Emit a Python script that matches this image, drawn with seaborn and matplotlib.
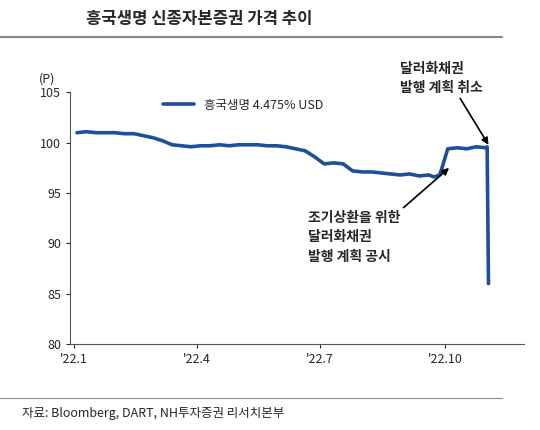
import matplotlib
matplotlib.use("Agg")
import matplotlib.pyplot as plt
import seaborn as sns
import pandas as pd

sns.set_style("white")
plt.rcParams['font.family'] = ['Noto Sans CJK KR', 'DejaVu Sans']

dates = ["2022-01-03","2022-01-10","2022-01-17","2022-01-24","2022-01-31","2022-02-07","2022-02-14","2022-02-21",
         "2022-02-28","2022-03-07","2022-03-14","2022-03-21","2022-03-28","2022-04-04","2022-04-11","2022-04-18",
         "2022-04-25","2022-05-02","2022-05-09","2022-05-16","2022-05-23","2022-05-30","2022-06-06","2022-06-13",
         "2022-06-20","2022-06-27","2022-07-04","2022-07-11","2022-07-18","2022-07-25","2022-08-01","2022-08-08",
         "2022-08-15","2022-08-22","2022-08-29","2022-09-05","2022-09-12","2022-09-19","2022-09-23","2022-09-27",
         "2022-09-29","2022-10-03","2022-10-10","2022-10-17","2022-10-24","2022-10-31","2022-11-01","2022-11-02"]
prices = [101.0, 101.1, 101.0, 101.0, 101.0, 100.9, 100.9, 100.7,
          100.5, 100.2, 99.8, 99.7, 99.6, 99.7, 99.7, 99.8,
          99.7, 99.8, 99.8, 99.8, 99.7, 99.7, 99.6, 99.4,
          99.2, 98.6, 97.9, 98.0, 97.9, 97.2, 97.1, 97.1,
          97.0, 96.9, 96.8, 96.9, 96.7, 96.8, 96.6, 96.8,
          97.6, 99.4, 99.5, 99.4, 99.6, 99.5, 99.6, 86.0]
df = pd.DataFrame({"date": pd.to_datetime(dates), "price": prices})
ticks = ["2022-01-01", "2022-04-01", "2022-07-01", "2022-10-01"]
tick_labels = ["'22.1", "'22.4", "'22.7", "'22.10"]

fig = plt.figure(figsize=(5.4, 4.3), dpi=100)
ax = fig.add_axes([0.13, 0.2, 0.84, 0.585])
sns.lineplot(data=df, x="date", y="price", ax=ax, color="#1F4E9A", linewidth=2.6, label="흥국생명 4.475% USD")
ax.set_ylim(80, 105)
ax.set_yticks([80, 85, 90, 95, 100, 105])
ax.set_xlim(pd.Timestamp("2021-12-29"), pd.Timestamp("2022-11-28"))
ax.set_xticks(pd.to_datetime(ticks))
ax.set_xticklabels(tick_labels)
ax.set_xlabel(""); ax.set_ylabel("")
ax.tick_params(labelsize=9, length=3, direction="out", left=True, bottom=True)
for s in ["top", "right"]:
    ax.spines[s].set_visible(False)
for s in ["left", "bottom"]:
    ax.spines[s].set_color("#555555")
ax.legend(loc="upper left", bbox_to_anchor=(0.18, 1.02), frameon=False, fontsize=9, handlelength=2.5)
ax.text(-0.07, 1.04, "(P)", transform=ax.transAxes, fontsize=9)

ax.annotate("조기상환을 위한\n달러화채권\n발행 계획 공시", xy=(pd.Timestamp("2022-10-04"), 97.5),
            xytext=(pd.Timestamp("2022-06-22"), 88.0), fontsize=10, fontweight="bold", ha="left", va="bottom",
            linespacing=1.5, arrowprops=dict(arrowstyle="-|>", color="black", lw=1.2, shrinkA=0, shrinkB=0,
                                             relpos=(1.0, 1.0)))
ax.annotate("달러화채권\n발행 계획 취소", xy=(pd.Timestamp("2022-11-02"), 99.8),
            xytext=(pd.Timestamp("2022-08-29"), 106.4), fontsize=10, fontweight="bold", ha="left", va="center",
            linespacing=1.5, arrowprops=dict(arrowstyle="-|>", color="black", lw=1.2, shrinkA=0, shrinkB=0,
                                             relpos=(0.7, 0.0)))

fig.text(0.16, 0.945, "흥국생명 신종자본증권 가격 추이", fontsize=12, fontweight="bold")
fig.add_artist(plt.Line2D([0.0, 0.93], [0.915, 0.915], color="#888888", lw=1.5, transform=fig.transFigure))
fig.add_artist(plt.Line2D([0.0, 0.93], [0.075, 0.075], color="#888888", lw=0.8, transform=fig.transFigure))
fig.text(0.04, 0.03, "자료: Bloomberg, DART, NH투자증권 리서치본부", fontsize=9)
fig.savefig("out.png", dpi=100)
